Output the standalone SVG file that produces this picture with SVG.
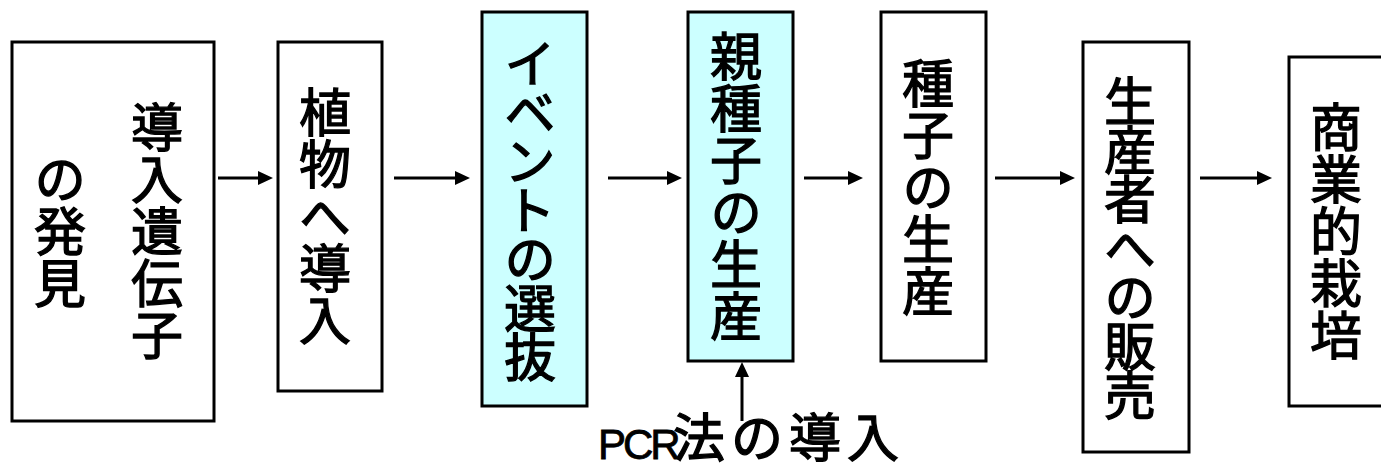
<svg xmlns="http://www.w3.org/2000/svg" width="1381" height="473" viewBox="0 0 1381 473">
<style>
.box{fill:#FFFFFF;stroke:#000000;stroke-width:3}
.sel{fill:#CCFFFF;stroke:#000000;stroke-width:3}
.v{font-family:"Noto Sans CJK JP","Noto Sans CJK SC",sans-serif;font-size:52px;fill:#000000;stroke:#000000;stroke-width:1.3px;writing-mode:vertical-rl;text-anchor:middle}
.conn{stroke:#000000;stroke-width:3;fill:none}
.lat{font-family:"Liberation Sans",Arial,sans-serif;font-size:42px;letter-spacing:-3px;fill:#000000;stroke:#000000;stroke-width:0.8px}
.cjk{font-family:"Noto Sans CJK JP","Noto Sans CJK SC",sans-serif;font-size:52px;letter-spacing:6px;fill:#000000;stroke:#000000;stroke-width:1.3px}
</style>
<defs>
<marker id="ah" markerUnits="userSpaceOnUse" markerWidth="16" markerHeight="14" refX="7" refY="7" orient="auto">
<path d="M0,0 L15,7 L0,14 z" fill="#000000"/>
</marker>
</defs>
<rect width="1381" height="473" fill="#FFFFFF"/>
<g id="n1">
<rect class="box" x="12" y="42" width="202" height="379"/>
<text class="v" x="157" y="231">導入遺伝子</text>
<text class="v" x="60" y="231">の発見</text>
</g>
<g id="n2">
<rect class="box" x="278" y="42" width="104" height="349"/>
<text class="v" x="325" y="216">植物へ導入</text>
</g>
<g id="n3">
<rect class="sel" x="482" y="12" width="105" height="394"/>
<text class="v" x="530" y="209" style="letter-spacing:-3px">イベントの選抜</text>
</g>
<g id="n4">
<rect class="sel" x="688" y="12" width="105" height="349"/>
<text class="v" x="736" y="186">親種子の生産</text>
</g>
<g id="n5">
<rect class="box" x="881" y="12" width="105" height="349"/>
<text class="v" x="928" y="187">種子の生産</text>
</g>
<g id="n6">
<rect class="box" x="1083" y="42" width="106" height="410"/>
<text class="v" x="1130" y="247" style="letter-spacing:-3px">生産者への販売</text>
</g>
<g id="n7">
<rect class="box" x="1289" y="57" width="106" height="349"/>
<text class="v" x="1336" y="231">商業的栽培</text>
</g>
<g id="pcr">
<text x="598" y="459"><tspan class="lat">PCR</tspan><tspan class="cjk" x="673" y="457">法の導入</tspan></text>
</g>
<g id="connectors">
<line class="conn" x1="218" y1="178" x2="265" y2="178" marker-end="url(#ah)"/>
<line class="conn" x1="394" y1="178" x2="462" y2="178" marker-end="url(#ah)"/>
<line class="conn" x1="608" y1="178" x2="674" y2="178" marker-end="url(#ah)"/>
<line class="conn" x1="804" y1="178" x2="855" y2="178" marker-end="url(#ah)"/>
<line class="conn" x1="995" y1="178" x2="1067" y2="178" marker-end="url(#ah)"/>
<line class="conn" x1="1200" y1="178" x2="1264" y2="178" marker-end="url(#ah)"/>
<line class="conn" x1="742" y1="421" x2="742" y2="370" marker-end="url(#ah)"/>
</g>
</svg>
